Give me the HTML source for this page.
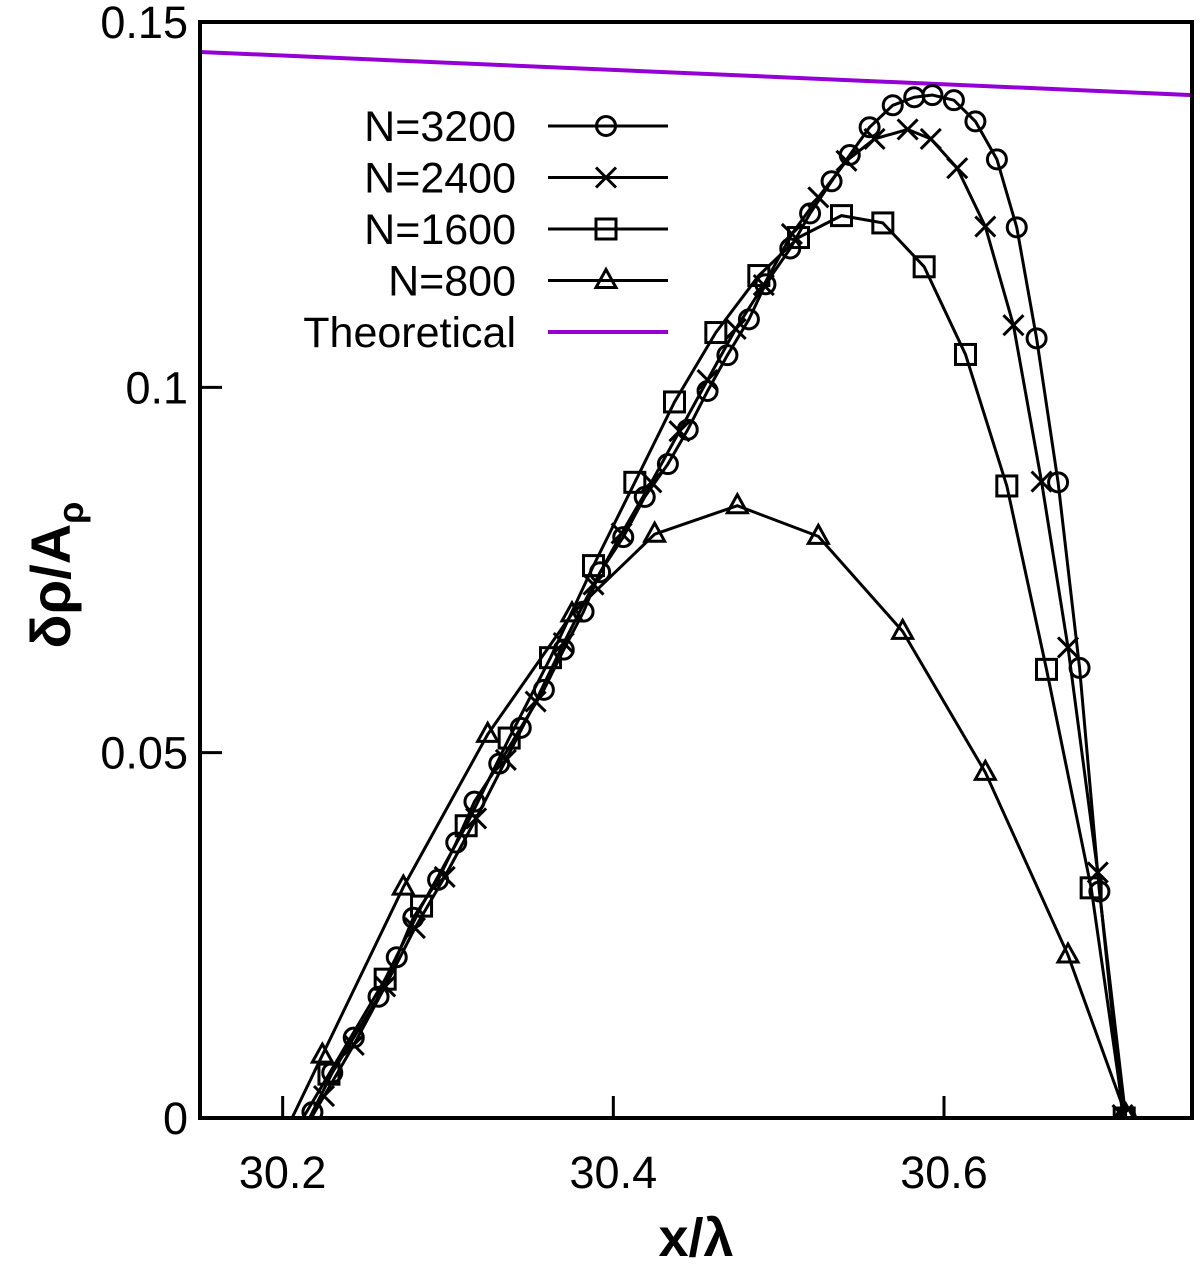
<!DOCTYPE html>
<html><head><meta charset="utf-8"><style>
html,body{margin:0;padding:0;background:#fff;}
svg{display:block;font-family:"Liberation Sans",sans-serif;}
</style></head><body>
<svg id="chart" width="1200" height="1265">
<g id="plot"></g>
</svg>
<script>
const xTicks=[30.2,30.4,30.6];
const xTickLabels=["30.2","30.4","30.6"];
const yTicks=[0,0.05,0.1,0.15];
const yTickLabels=["0","0.05","0.1","0.15"];
const seriesNames=["N=3200","N=2400","N=1600","N=800"];
const markers=["circle","cross","square","triangle"];
const x3200=[30.218,30.230,30.243,30.258,30.269,30.279,30.294,30.305,30.316,30.331,30.344,30.358,30.370,30.382,30.392,30.406,30.419,30.433,30.445,30.457,30.469,30.482,30.492,30.507,30.519,30.532,30.543,30.555,30.569,30.582,30.593,30.606,30.619,30.632,30.644,30.656,30.669,30.682,30.694,30.710];
const y3200=[0.0008,0.0062,0.011,0.0166,0.022,0.0274,0.0326,0.0377,0.0433,0.0485,0.0534,0.0586,0.0641,0.0693,0.0747,0.0795,0.085,0.0895,0.0942,0.0995,0.1044,0.1093,0.1141,0.119,0.1238,0.1282,0.1318,0.1356,0.1386,0.1397,0.1400,0.1393,0.1364,0.1312,0.1219,0.1067,0.0870,0.0616,0.0310,0.0];
const x2400=[30.225,30.243,30.262,30.280,30.298,30.317,30.335,30.353,30.370,30.388,30.405,30.423,30.440,30.457,30.474,30.491,30.508,30.524,30.541,30.558,30.578,30.592,30.608,30.625,30.642,30.659,30.675,30.693,30.708];
const y2400=[0.003,0.010,0.018,0.026,0.033,0.041,0.049,0.057,0.065,0.073,0.080,0.087,0.094,0.101,0.108,0.114,0.121,0.126,0.131,0.134,0.1353,0.134,0.130,0.122,0.1085,0.0871,0.0644,0.0336,0.0004];
const x1600=[30.228,30.262,30.284,30.311,30.337,30.362,30.388,30.413,30.437,30.462,30.488,30.512,30.538,30.563,30.588,30.613,30.638,30.662,30.689,30.709];
const y1600=[0.006,0.019,0.029,0.040,0.052,0.063,0.0756,0.087,0.098,0.1075,0.1153,0.1205,0.1235,0.1225,0.1165,0.1045,0.0865,0.0614,0.0315,0.0];
const x800=[30.224,30.273,30.324,30.375,30.425,30.475,30.524,30.575,30.625,30.675,30.710];
const y800=[0.0086,0.0316,0.0525,0.069,0.0799,0.0838,0.0796,0.0666,0.0473,0.0223,0.0004];
const theoryX=[30.15,30.75];
const theoryY=[0.1459,0.1400];

const L=200,R=1192,T=22,B=1118,X0=30.15,X1=30.75,Y0=0,Y1=0.15;
const sx=v=>L+(v-X0)/(X1-X0)*(R-L);
const sy=v=>B-(v-Y0)/(Y1-Y0)*(B-T);
const NS="http://www.w3.org/2000/svg";
const svg=document.getElementById('chart');
function mk(t,a,p){const e=document.createElementNS(NS,t);for(const k in a)e.setAttribute(k,a[k]);(p||svg).appendChild(e);return e;}
const defs=mk('defs',{});
const cp=mk('clipPath',{id:'clip'},defs);mk('rect',{x:L,y:T,width:R-L,height:B-T},cp);
const plot=document.getElementById('plot');
const g=mk('g',{'clip-path':'url(#clip)'},plot);
const SW=3;
function marker(type,cx,cy,parent){
  let e;
  if(type==='circle') e=mk('circle',{cx:cx,cy:cy,r:9.5,fill:'none',stroke:'#000','stroke-width':SW},parent);
  else if(type==='cross') e=mk('path',{d:`M${cx-10} ${cy-10}L${cx+10} ${cy+10}M${cx-10} ${cy+10}L${cx+10} ${cy-10}`,stroke:'#000','stroke-width':SW,fill:'none'},parent);
  else if(type==='square') e=mk('rect',{x:cx-10,y:cy-10,width:20,height:20,fill:'none',stroke:'#000','stroke-width':SW},parent);
  else e=mk('path',{d:`M${cx} ${cy-11}L${cx+10} ${cy+7}L${cx-10} ${cy+7}Z`,fill:'none',stroke:'#000','stroke-width':SW},parent);
  return e;
}
const th=mk('line',{x1:sx(theoryX[0]),y1:sy(theoryY[0]),x2:sx(theoryX[1]),y2:sy(theoryY[1]),stroke:'#9400d3','stroke-width':4},g);


const allX=[x3200,x2400,x1600,x800],allY=[y3200,y2400,y1600,y800];
allX.forEach((xs,i)=>{
  const ys=allY[i];
  const sg=mk('g',{},g);
  
  
  const x0=xs[0],y0=ys[0],x1=xs[1],y1=ys[1];
  const ext=x0-(x1-x0)/(y1-y0||1)*(y0+0.004);
  let d=`M${sx(ext)} ${sy(-0.004)}`+xs.map((x,j)=>`L${sx(x)} ${sy(ys[j])}`).join('');
  const p=mk('path',{d:d,fill:'none',stroke:'#000','stroke-width':SW},sg);
  
  
  xs.forEach((x,j)=>{const m=marker(markers[i],sx(x),sy(ys[j]),sg);
    
    });
});
const fr=mk('rect',{x:L,y:T,width:R-L,height:B-T,fill:'none',stroke:'#000','stroke-width':4},plot);


xTicks.forEach((v,i)=>{
  const t=mk('line',{x1:sx(v),x2:sx(v),y1:B,y2:B-22,stroke:'#000','stroke-width':3},plot);
  
  
  const l=mk('text',{x:sx(v),y:1188,'font-size':45,'text-anchor':'middle'},plot);l.textContent=xTickLabels[i];
  
  
});
yTicks.forEach((v,i)=>{
  const t=mk('line',{x1:L,x2:L+22,y1:sy(v),y2:sy(v),stroke:'#000','stroke-width':3},plot);
  
  
  const l=mk('text',{x:188,y:sy(v)+16,'font-size':45,'text-anchor':'end'},plot);l.textContent=yTickLabels[i];
  
  
});
const names=seriesNames.concat(["Theoretical"]);
const lg=mk('g',{},plot);


names.forEach((n,i)=>{
  const y=126+i*51.5;
  const e=mk('g',{},lg);
  
  
  const t=mk('text',{x:516,y:y+15,'font-size':43,'text-anchor':'end'},e);t.textContent=n;
  if(i<4){mk('line',{x1:548,x2:668,y1:y,y2:y,stroke:'#000','stroke-width':SW},e);marker(markers[i],606,y,e);}
  else mk('line',{x1:548,x2:668,y1:y,y2:y,stroke:'#9400d3','stroke-width':4},e);
});
</script>
<div style="position:absolute;left:0;top:0;width:1200px;height:1265px;pointer-events:none;">
<svg width="1200" height="1265" style="font-family:'Liberation Sans',sans-serif;">
<text x="696" y="1256" font-size="54" font-weight="bold" text-anchor="middle">x/λ</text>
<text transform="translate(70,575) rotate(-90)" font-size="56" font-weight="bold" text-anchor="middle">δρ/A<tspan font-size="36" dy="13">ρ</tspan></text>
</svg>
</div>
</body></html>
